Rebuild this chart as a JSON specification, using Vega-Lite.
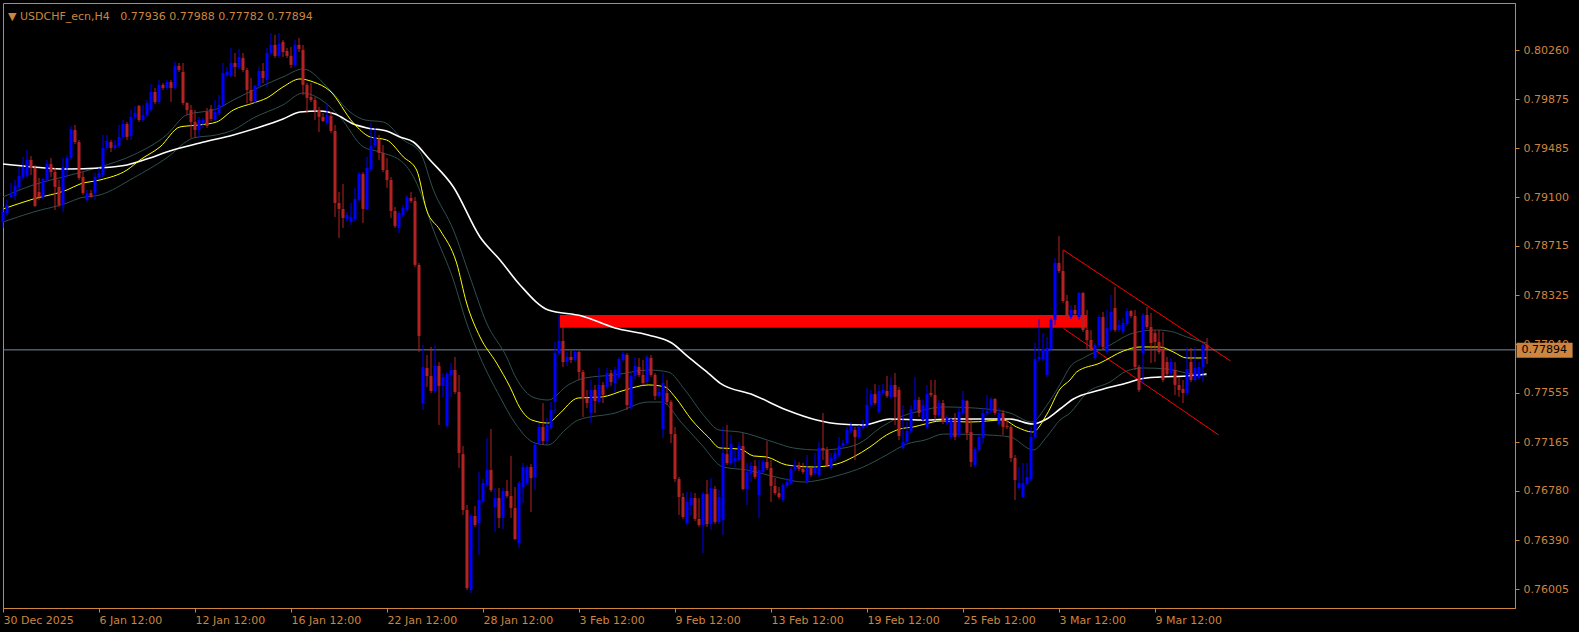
{
"$schema":"https://vega.github.io/schema/vega-lite/v6.json",
"width":1512,"height":605,"autosize":"none",
"padding":{"left":3,"top":3,"right":64,"bottom":24},
"background":"#000000",
"config":{"view":{"stroke":"#CD853F","strokeWidth":1,"fill":"#000000"},"font":"DejaVu Sans",
"axis":{"domainColor":"#CD853F","tickColor":"#CD853F","labelColor":"#CD853F","labelFont":"DejaVu Sans","labelFontSize":11,"grid":false,"tickSize":4,"title":null}},
"title":{"text":"▼ USDCHF_ecn,H4\u00a0\u00a0 0.77936 0.77988 0.77782 0.77894","anchor":"start","frame":"group","orient":"top","offset":-28,"dx":5,"font":"DejaVu Sans","fontSize":11,"fontWeight":"normal","color":"#CD853F","baseline":"alphabetic"},
"datasets":{
"candles":[
{"i":0,"o":0.78904,"h":0.79023,"l":0.78857,"c":0.78983},
{"i":1,"o":0.78975,"h":0.79078,"l":0.78952,"c":0.79039},
{"i":2,"o":0.79102,"h":0.79212,"l":0.79094,"c":0.79133},
{"i":3,"o":0.79110,"h":0.79236,"l":0.79078,"c":0.79189},
{"i":4,"o":0.79181,"h":0.79339,"l":0.79157,"c":0.79268},
{"i":5,"o":0.79260,"h":0.79418,"l":0.79244,"c":0.79339},
{"i":6,"o":0.79268,"h":0.79473,"l":0.79252,"c":0.79394},
{"i":7,"o":0.79394,"h":0.79426,"l":0.79276,"c":0.79331},
{"i":8,"o":0.79331,"h":0.79354,"l":0.79023,"c":0.79031},
{"i":9,"o":0.79141,"h":0.79252,"l":0.79078,"c":0.79102},
{"i":10,"o":0.79102,"h":0.79252,"l":0.79086,"c":0.79244},
{"i":11,"o":0.79236,"h":0.79394,"l":0.79220,"c":0.79362},
{"i":12,"o":0.79362,"h":0.79410,"l":0.79260,"c":0.79299},
{"i":13,"o":0.79299,"h":0.79331,"l":0.78999,"c":0.79181},
{"i":14,"o":0.79181,"h":0.79236,"l":0.79023,"c":0.79039},
{"i":15,"o":0.79039,"h":0.79410,"l":0.78983,"c":0.79339},
{"i":16,"o":0.79331,"h":0.79434,"l":0.79252,"c":0.79410},
{"i":17,"o":0.79410,"h":0.79663,"l":0.79394,"c":0.79639},
{"i":18,"o":0.79631,"h":0.79671,"l":0.79520,"c":0.79536},
{"i":19,"o":0.79536,"h":0.79552,"l":0.79236,"c":0.79252},
{"i":20,"o":0.79260,"h":0.79299,"l":0.79118,"c":0.79133},
{"i":21,"o":0.79078,"h":0.79157,"l":0.79062,"c":0.79133},
{"i":22,"o":0.79133,"h":0.79157,"l":0.79094,"c":0.79102},
{"i":23,"o":0.79133,"h":0.79291,"l":0.79078,"c":0.79260},
{"i":24,"o":0.79260,"h":0.79331,"l":0.79244,"c":0.79291},
{"i":25,"o":0.79276,"h":0.79592,"l":0.79260,"c":0.79489},
{"i":26,"o":0.79489,"h":0.79592,"l":0.79473,"c":0.79544},
{"i":27,"o":0.79536,"h":0.79552,"l":0.79457,"c":0.79489},
{"i":28,"o":0.79489,"h":0.79552,"l":0.79473,"c":0.79513},
{"i":29,"o":0.79505,"h":0.79671,"l":0.79489,"c":0.79576},
{"i":30,"o":0.79576,"h":0.79710,"l":0.79560,"c":0.79678},
{"i":31,"o":0.79678,"h":0.79694,"l":0.79552,"c":0.79576},
{"i":32,"o":0.79584,"h":0.79789,"l":0.79552,"c":0.79734},
{"i":33,"o":0.79734,"h":0.79821,"l":0.79718,"c":0.79765},
{"i":34,"o":0.79821,"h":0.79829,"l":0.79694,"c":0.79710},
{"i":35,"o":0.79710,"h":0.79829,"l":0.79694,"c":0.79750},
{"i":36,"o":0.79750,"h":0.79868,"l":0.79734,"c":0.79844},
{"i":37,"o":0.79789,"h":0.79994,"l":0.79773,"c":0.79931},
{"i":38,"o":0.79931,"h":0.79963,"l":0.79836,"c":0.79852},
{"i":39,"o":0.79852,"h":0.80026,"l":0.79836,"c":0.79987},
{"i":40,"o":0.79987,"h":0.80002,"l":0.79947,"c":0.79963},
{"i":41,"o":0.79963,"h":0.80026,"l":0.79947,"c":0.80010},
{"i":42,"o":0.80010,"h":0.80026,"l":0.79852,"c":0.79963},
{"i":43,"o":0.79963,"h":0.80168,"l":0.79947,"c":0.80137},
{"i":44,"o":0.80137,"h":0.80160,"l":0.80089,"c":0.80105},
{"i":45,"o":0.80089,"h":0.80160,"l":0.79829,"c":0.79844},
{"i":46,"o":0.79844,"h":0.79852,"l":0.79750,"c":0.79789},
{"i":47,"o":0.79789,"h":0.79829,"l":0.79568,"c":0.79694},
{"i":48,"o":0.79694,"h":0.79789,"l":0.79568,"c":0.79631},
{"i":49,"o":0.79631,"h":0.79734,"l":0.79576,"c":0.79710},
{"i":50,"o":0.79678,"h":0.79726,"l":0.79647,"c":0.79710},
{"i":51,"o":0.79773,"h":0.79805,"l":0.79647,"c":0.79663},
{"i":52,"o":0.79797,"h":0.79829,"l":0.79702,"c":0.79718},
{"i":53,"o":0.79710,"h":0.79868,"l":0.79694,"c":0.79773},
{"i":54,"o":0.79765,"h":0.79908,"l":0.79750,"c":0.79829},
{"i":55,"o":0.79829,"h":0.80160,"l":0.79813,"c":0.80081},
{"i":56,"o":0.80066,"h":0.80129,"l":0.80050,"c":0.80089},
{"i":57,"o":0.80058,"h":0.80279,"l":0.80042,"c":0.80160},
{"i":58,"o":0.80160,"h":0.80239,"l":0.80050,"c":0.80129},
{"i":59,"o":0.80129,"h":0.80271,"l":0.80113,"c":0.80208},
{"i":60,"o":0.80200,"h":0.80239,"l":0.80089,"c":0.80105},
{"i":61,"o":0.80105,"h":0.80121,"l":0.79844,"c":0.79947},
{"i":62,"o":0.79947,"h":0.80042,"l":0.79836,"c":0.79860},
{"i":63,"o":0.79860,"h":0.79987,"l":0.79836,"c":0.79979},
{"i":64,"o":0.79979,"h":0.80129,"l":0.79963,"c":0.80097},
{"i":65,"o":0.80097,"h":0.80160,"l":0.80002,"c":0.80042},
{"i":66,"o":0.80026,"h":0.80279,"l":0.79971,"c":0.80239},
{"i":67,"o":0.80239,"h":0.80397,"l":0.80224,"c":0.80303},
{"i":68,"o":0.80303,"h":0.80382,"l":0.80200,"c":0.80216},
{"i":69,"o":0.80216,"h":0.80397,"l":0.80200,"c":0.80310},
{"i":70,"o":0.80326,"h":0.80342,"l":0.80208,"c":0.80247},
{"i":71,"o":0.80255,"h":0.80279,"l":0.80200,"c":0.80216},
{"i":72,"o":0.80216,"h":0.80287,"l":0.80121,"c":0.80145},
{"i":73,"o":0.80145,"h":0.80342,"l":0.80129,"c":0.80303},
{"i":74,"o":0.80303,"h":0.80358,"l":0.80247,"c":0.80271},
{"i":75,"o":0.80263,"h":0.80303,"l":0.79908,"c":0.79987},
{"i":76,"o":0.79987,"h":0.80002,"l":0.79765,"c":0.79884},
{"i":77,"o":0.79892,"h":0.80002,"l":0.79852,"c":0.79868},
{"i":78,"o":0.79868,"h":0.79892,"l":0.79710,"c":0.79789},
{"i":79,"o":0.79789,"h":0.79813,"l":0.79615,"c":0.79734},
{"i":80,"o":0.79734,"h":0.79765,"l":0.79694,"c":0.79702},
{"i":81,"o":0.79686,"h":0.79844,"l":0.79671,"c":0.79750},
{"i":82,"o":0.79742,"h":0.79773,"l":0.79607,"c":0.79623},
{"i":83,"o":0.79623,"h":0.79671,"l":0.78944,"c":0.79054},
{"i":84,"o":0.79054,"h":0.79141,"l":0.78778,"c":0.79007},
{"i":85,"o":0.79007,"h":0.79204,"l":0.78857,"c":0.78936},
{"i":86,"o":0.78928,"h":0.78983,"l":0.78904,"c":0.78960},
{"i":87,"o":0.78904,"h":0.79054,"l":0.78881,"c":0.78944},
{"i":88,"o":0.78928,"h":0.79173,"l":0.78912,"c":0.79086},
{"i":89,"o":0.79078,"h":0.79299,"l":0.79062,"c":0.79283},
{"i":90,"o":0.79283,"h":0.79299,"l":0.78896,"c":0.79007},
{"i":91,"o":0.79007,"h":0.79418,"l":0.78999,"c":0.79331},
{"i":92,"o":0.79323,"h":0.79686,"l":0.79307,"c":0.79505},
{"i":93,"o":0.79505,"h":0.79647,"l":0.79489,"c":0.79576},
{"i":94,"o":0.79560,"h":0.79592,"l":0.79394,"c":0.79449},
{"i":95,"o":0.79449,"h":0.79513,"l":0.79299,"c":0.79315},
{"i":96,"o":0.79315,"h":0.79410,"l":0.79173,"c":0.79236},
{"i":97,"o":0.79236,"h":0.79260,"l":0.78936,"c":0.78991},
{"i":98,"o":0.78991,"h":0.79023,"l":0.78857,"c":0.78873},
{"i":99,"o":0.78857,"h":0.78991,"l":0.78817,"c":0.78975},
{"i":100,"o":0.78960,"h":0.79039,"l":0.78944,"c":0.79015},
{"i":101,"o":0.78999,"h":0.79118,"l":0.78983,"c":0.79102},
{"i":102,"o":0.79094,"h":0.79141,"l":0.79054,"c":0.79070},
{"i":103,"o":0.79070,"h":0.79102,"l":0.78549,"c":0.78565},
{"i":104,"o":0.78565,"h":0.78580,"l":0.77877,"c":0.78004},
{"i":105,"o":0.77474,"h":0.77933,"l":0.77419,"c":0.77759},
{"i":106,"o":0.77751,"h":0.77854,"l":0.77601,"c":0.77688},
{"i":107,"o":0.77688,"h":0.77917,"l":0.77553,"c":0.77569},
{"i":108,"o":0.77569,"h":0.77933,"l":0.77553,"c":0.77767},
{"i":109,"o":0.77767,"h":0.77798,"l":0.77301,"c":0.77609},
{"i":110,"o":0.77609,"h":0.77711,"l":0.77522,"c":0.77680},
{"i":111,"o":0.77293,"h":0.77719,"l":0.77277,"c":0.77703},
{"i":112,"o":0.77696,"h":0.77790,"l":0.77522,"c":0.77735},
{"i":113,"o":0.77735,"h":0.77838,"l":0.77545,"c":0.77561},
{"i":114,"o":0.77561,"h":0.77696,"l":0.76961,"c":0.77079},
{"i":115,"o":0.77071,"h":0.77135,"l":0.76590,"c":0.76629},
{"i":116,"o":0.76629,"h":0.76669,"l":0.75997,"c":0.76013},
{"i":117,"o":0.75997,"h":0.76597,"l":0.75973,"c":0.76582},
{"i":118,"o":0.76582,"h":0.76661,"l":0.76495,"c":0.76511},
{"i":119,"o":0.76526,"h":0.76929,"l":0.76274,"c":0.76708},
{"i":120,"o":0.76700,"h":0.76874,"l":0.76684,"c":0.76842},
{"i":121,"o":0.76827,"h":0.77198,"l":0.76811,"c":0.76945},
{"i":122,"o":0.76945,"h":0.77269,"l":0.76771,"c":0.76787},
{"i":123,"o":0.76653,"h":0.76803,"l":0.76455,"c":0.76724},
{"i":124,"o":0.76724,"h":0.76803,"l":0.76487,"c":0.76566},
{"i":125,"o":0.76566,"h":0.76803,"l":0.76479,"c":0.76779},
{"i":126,"o":0.76779,"h":0.76866,"l":0.76724,"c":0.76740},
{"i":127,"o":0.76740,"h":0.77056,"l":0.76566,"c":0.76645},
{"i":128,"o":0.76645,"h":0.76811,"l":0.76392,"c":0.76400},
{"i":129,"o":0.76368,"h":0.76858,"l":0.76329,"c":0.76842},
{"i":130,"o":0.76811,"h":0.77000,"l":0.76684,"c":0.76969},
{"i":131,"o":0.76842,"h":0.76985,"l":0.76827,"c":0.76969},
{"i":132,"o":0.76969,"h":0.76992,"l":0.76613,"c":0.76882},
{"i":133,"o":0.76890,"h":0.77166,"l":0.76787,"c":0.77143},
{"i":134,"o":0.77158,"h":0.77316,"l":0.77143,"c":0.77285},
{"i":135,"o":0.77285,"h":0.77474,"l":0.77143,"c":0.77174},
{"i":136,"o":0.77174,"h":0.77356,"l":0.77150,"c":0.77301},
{"i":137,"o":0.77277,"h":0.77482,"l":0.77261,"c":0.77419},
{"i":138,"o":0.77482,"h":0.77956,"l":0.77395,"c":0.77869},
{"i":139,"o":0.77869,"h":0.78170,"l":0.77854,"c":0.77964},
{"i":140,"o":0.77964,"h":0.78106,"l":0.77759,"c":0.77798},
{"i":141,"o":0.77798,"h":0.77877,"l":0.77767,"c":0.77838},
{"i":142,"o":0.77838,"h":0.77885,"l":0.77790,"c":0.77814},
{"i":143,"o":0.77814,"h":0.77893,"l":0.77798,"c":0.77877},
{"i":144,"o":0.77877,"h":0.77885,"l":0.77656,"c":0.77719},
{"i":145,"o":0.77719,"h":0.77735,"l":0.77364,"c":0.77514},
{"i":146,"o":0.77514,"h":0.77577,"l":0.77435,"c":0.77474},
{"i":147,"o":0.77395,"h":0.77656,"l":0.77316,"c":0.77577},
{"i":148,"o":0.77577,"h":0.77617,"l":0.77395,"c":0.77490},
{"i":149,"o":0.77482,"h":0.77751,"l":0.77466,"c":0.77617},
{"i":150,"o":0.77617,"h":0.77640,"l":0.77474,"c":0.77538},
{"i":151,"o":0.77601,"h":0.77751,"l":0.77585,"c":0.77711},
{"i":152,"o":0.77711,"h":0.77735,"l":0.77609,"c":0.77640},
{"i":153,"o":0.77632,"h":0.77759,"l":0.77561,"c":0.77735},
{"i":154,"o":0.77680,"h":0.77838,"l":0.77664,"c":0.77822},
{"i":155,"o":0.77814,"h":0.77877,"l":0.77798,"c":0.77861},
{"i":156,"o":0.77854,"h":0.77869,"l":0.77419,"c":0.77458},
{"i":157,"o":0.77443,"h":0.77711,"l":0.77427,"c":0.77688},
{"i":158,"o":0.77688,"h":0.77838,"l":0.77656,"c":0.77767},
{"i":159,"o":0.77759,"h":0.77830,"l":0.77680,"c":0.77696},
{"i":160,"o":0.77696,"h":0.77814,"l":0.77617,"c":0.77632},
{"i":161,"o":0.77640,"h":0.77854,"l":0.77624,"c":0.77838},
{"i":162,"o":0.77830,"h":0.77854,"l":0.77680,"c":0.77696},
{"i":163,"o":0.77696,"h":0.77711,"l":0.77498,"c":0.77530},
{"i":164,"o":0.77530,"h":0.77601,"l":0.77514,"c":0.77561},
{"i":165,"o":0.77269,"h":0.77711,"l":0.77198,"c":0.77632},
{"i":166,"o":0.77553,"h":0.77656,"l":0.77458,"c":0.77482},
{"i":167,"o":0.77482,"h":0.77498,"l":0.77158,"c":0.77229},
{"i":168,"o":0.77229,"h":0.77285,"l":0.76850,"c":0.76874},
{"i":169,"o":0.76874,"h":0.76890,"l":0.76590,"c":0.76732},
{"i":170,"o":0.76732,"h":0.76763,"l":0.76558,"c":0.76574},
{"i":171,"o":0.76526,"h":0.76771,"l":0.76511,"c":0.76692},
{"i":172,"o":0.76669,"h":0.76771,"l":0.76590,"c":0.76724},
{"i":173,"o":0.76724,"h":0.76763,"l":0.76542,"c":0.76558},
{"i":174,"o":0.76558,"h":0.76724,"l":0.76495,"c":0.76511},
{"i":175,"o":0.76511,"h":0.76771,"l":0.76289,"c":0.76755},
{"i":176,"o":0.76755,"h":0.76866,"l":0.76495,"c":0.76518},
{"i":177,"o":0.76518,"h":0.76882,"l":0.76471,"c":0.76803},
{"i":178,"o":0.76795,"h":0.76819,"l":0.76518,"c":0.76534},
{"i":179,"o":0.76534,"h":0.76787,"l":0.76518,"c":0.76732},
{"i":180,"o":0.76550,"h":0.77285,"l":0.76431,"c":0.77079},
{"i":181,"o":0.77071,"h":0.77301,"l":0.76985,"c":0.77000},
{"i":182,"o":0.77000,"h":0.77222,"l":0.76985,"c":0.77150},
{"i":183,"o":0.77016,"h":0.77103,"l":0.76969,"c":0.77040},
{"i":184,"o":0.77024,"h":0.77166,"l":0.77008,"c":0.77135},
{"i":185,"o":0.77135,"h":0.77237,"l":0.76787,"c":0.76795},
{"i":186,"o":0.76795,"h":0.77000,"l":0.76669,"c":0.76929},
{"i":187,"o":0.76913,"h":0.77008,"l":0.76850,"c":0.76977},
{"i":188,"o":0.76977,"h":0.77024,"l":0.76874,"c":0.76890},
{"i":189,"o":0.76748,"h":0.77024,"l":0.76566,"c":0.76945},
{"i":190,"o":0.76929,"h":0.77024,"l":0.76913,"c":0.77008},
{"i":191,"o":0.77008,"h":0.77174,"l":0.76945,"c":0.76961},
{"i":192,"o":0.76961,"h":0.77024,"l":0.76692,"c":0.76819},
{"i":193,"o":0.76819,"h":0.76882,"l":0.76748,"c":0.76763},
{"i":194,"o":0.76763,"h":0.76811,"l":0.76716,"c":0.76732},
{"i":195,"o":0.76708,"h":0.76842,"l":0.76692,"c":0.76827},
{"i":196,"o":0.76819,"h":0.76882,"l":0.76803,"c":0.76850},
{"i":197,"o":0.76842,"h":0.76969,"l":0.76827,"c":0.76953},
{"i":198,"o":0.76953,"h":0.77024,"l":0.76937,"c":0.76985},
{"i":199,"o":0.76985,"h":0.77008,"l":0.76937,"c":0.76953},
{"i":200,"o":0.76953,"h":0.77000,"l":0.76913,"c":0.76929},
{"i":201,"o":0.76850,"h":0.77064,"l":0.76834,"c":0.76961},
{"i":202,"o":0.76961,"h":0.76969,"l":0.76890,"c":0.76906},
{"i":203,"o":0.76921,"h":0.77079,"l":0.76906,"c":0.76961},
{"i":204,"o":0.76906,"h":0.77166,"l":0.76890,"c":0.77119},
{"i":205,"o":0.77119,"h":0.77395,"l":0.77024,"c":0.77103},
{"i":206,"o":0.77103,"h":0.77127,"l":0.76969,"c":0.76985},
{"i":207,"o":0.76961,"h":0.77079,"l":0.76945,"c":0.77040},
{"i":208,"o":0.77032,"h":0.77103,"l":0.77016,"c":0.77079},
{"i":209,"o":0.77064,"h":0.77206,"l":0.77048,"c":0.77135},
{"i":210,"o":0.77135,"h":0.77182,"l":0.77119,"c":0.77158},
{"i":211,"o":0.77158,"h":0.77285,"l":0.77143,"c":0.77261},
{"i":212,"o":0.77253,"h":0.77324,"l":0.77237,"c":0.77293},
{"i":213,"o":0.77261,"h":0.77285,"l":0.77024,"c":0.77206},
{"i":214,"o":0.77206,"h":0.77301,"l":0.77190,"c":0.77285},
{"i":215,"o":0.77277,"h":0.77340,"l":0.77261,"c":0.77293},
{"i":216,"o":0.77293,"h":0.77593,"l":0.77277,"c":0.77458},
{"i":217,"o":0.77458,"h":0.77577,"l":0.77443,"c":0.77545},
{"i":218,"o":0.77545,"h":0.77624,"l":0.77458,"c":0.77474},
{"i":219,"o":0.77403,"h":0.77617,"l":0.77387,"c":0.77569},
{"i":220,"o":0.77553,"h":0.77624,"l":0.77538,"c":0.77577},
{"i":221,"o":0.77569,"h":0.77688,"l":0.77514,"c":0.77530},
{"i":222,"o":0.77522,"h":0.77680,"l":0.77506,"c":0.77617},
{"i":223,"o":0.77617,"h":0.77711,"l":0.77301,"c":0.77522},
{"i":224,"o":0.77577,"h":0.77601,"l":0.77182,"c":0.77214},
{"i":225,"o":0.77119,"h":0.77458,"l":0.77103,"c":0.77166},
{"i":226,"o":0.77166,"h":0.77324,"l":0.77150,"c":0.77253},
{"i":227,"o":0.77253,"h":0.77458,"l":0.77237,"c":0.77427},
{"i":228,"o":0.77419,"h":0.77680,"l":0.77403,"c":0.77498},
{"i":229,"o":0.77498,"h":0.77522,"l":0.77364,"c":0.77395},
{"i":230,"o":0.77340,"h":0.77498,"l":0.77324,"c":0.77458},
{"i":231,"o":0.77285,"h":0.77617,"l":0.77269,"c":0.77545},
{"i":232,"o":0.77553,"h":0.77656,"l":0.77522,"c":0.77538},
{"i":233,"o":0.77538,"h":0.77656,"l":0.77340,"c":0.77380},
{"i":234,"o":0.77380,"h":0.77498,"l":0.77364,"c":0.77474},
{"i":235,"o":0.77474,"h":0.77498,"l":0.77308,"c":0.77324},
{"i":236,"o":0.77316,"h":0.77380,"l":0.77301,"c":0.77364},
{"i":237,"o":0.77206,"h":0.77364,"l":0.77190,"c":0.77348},
{"i":238,"o":0.77348,"h":0.77395,"l":0.77182,"c":0.77206},
{"i":239,"o":0.77222,"h":0.77435,"l":0.77206,"c":0.77403},
{"i":240,"o":0.77395,"h":0.77569,"l":0.77380,"c":0.77498},
{"i":241,"o":0.77490,"h":0.77498,"l":0.77182,"c":0.77237},
{"i":242,"o":0.77245,"h":0.77340,"l":0.76969,"c":0.77008},
{"i":243,"o":0.76985,"h":0.77127,"l":0.76969,"c":0.77111},
{"i":244,"o":0.77103,"h":0.77237,"l":0.77087,"c":0.77206},
{"i":245,"o":0.77198,"h":0.77435,"l":0.77158,"c":0.77395},
{"i":246,"o":0.77395,"h":0.77538,"l":0.77380,"c":0.77411},
{"i":247,"o":0.77411,"h":0.77522,"l":0.77395,"c":0.77506},
{"i":248,"o":0.77506,"h":0.77514,"l":0.77380,"c":0.77395},
{"i":249,"o":0.77308,"h":0.77435,"l":0.77293,"c":0.77395},
{"i":250,"o":0.77395,"h":0.77419,"l":0.77222,"c":0.77285},
{"i":251,"o":0.77293,"h":0.77340,"l":0.77269,"c":0.77285},
{"i":252,"o":0.77285,"h":0.77301,"l":0.77008,"c":0.77040},
{"i":253,"o":0.77040,"h":0.77064,"l":0.76708,"c":0.76866},
{"i":254,"o":0.76803,"h":0.76969,"l":0.76787,"c":0.76842},
{"i":255,"o":0.76732,"h":0.77000,"l":0.76724,"c":0.76842},
{"i":256,"o":0.76834,"h":0.77000,"l":0.76819,"c":0.76890},
{"i":257,"o":0.76874,"h":0.77285,"l":0.76858,"c":0.77206},
{"i":258,"o":0.77206,"h":0.77948,"l":0.77190,"c":0.77822},
{"i":259,"o":0.77822,"h":0.78138,"l":0.77806,"c":0.77838},
{"i":260,"o":0.77822,"h":0.78027,"l":0.77806,"c":0.77901},
{"i":261,"o":0.77696,"h":0.77996,"l":0.77680,"c":0.77909},
{"i":262,"o":0.77901,"h":0.78146,"l":0.77885,"c":0.78130},
{"i":263,"o":0.78130,"h":0.78620,"l":0.78091,"c":0.78580},
{"i":264,"o":0.78580,"h":0.78794,"l":0.78501,"c":0.78517},
{"i":265,"o":0.78517,"h":0.78683,"l":0.78264,"c":0.78280},
{"i":266,"o":0.78280,"h":0.78328,"l":0.78138,"c":0.78154},
{"i":267,"o":0.78154,"h":0.78249,"l":0.78138,"c":0.78209},
{"i":268,"o":0.78209,"h":0.78249,"l":0.78162,"c":0.78177},
{"i":269,"o":0.78154,"h":0.78351,"l":0.78130,"c":0.78343},
{"i":270,"o":0.78343,"h":0.78351,"l":0.78035,"c":0.78051},
{"i":271,"o":0.78051,"h":0.78209,"l":0.77893,"c":0.77972},
{"i":272,"o":0.77972,"h":0.78051,"l":0.77885,"c":0.77901},
{"i":273,"o":0.77830,"h":0.77948,"l":0.77814,"c":0.77933},
{"i":274,"o":0.77933,"h":0.78170,"l":0.77917,"c":0.78154},
{"i":275,"o":0.78154,"h":0.78193,"l":0.77893,"c":0.77917},
{"i":276,"o":0.77877,"h":0.78209,"l":0.77861,"c":0.78067},
{"i":277,"o":0.78051,"h":0.78328,"l":0.78035,"c":0.78193},
{"i":278,"o":0.78225,"h":0.78391,"l":0.78035,"c":0.78051},
{"i":279,"o":0.78051,"h":0.78130,"l":0.78035,"c":0.78091},
{"i":280,"o":0.78035,"h":0.78146,"l":0.78019,"c":0.78106},
{"i":281,"o":0.78098,"h":0.78225,"l":0.78083,"c":0.78201},
{"i":282,"o":0.78201,"h":0.78209,"l":0.78146,"c":0.78162},
{"i":283,"o":0.78162,"h":0.78209,"l":0.77735,"c":0.77759},
{"i":284,"o":0.77759,"h":0.77775,"l":0.77561,"c":0.77577},
{"i":285,"o":0.77869,"h":0.78185,"l":0.77632,"c":0.78170},
{"i":286,"o":0.78170,"h":0.78233,"l":0.78059,"c":0.78075},
{"i":287,"o":0.78075,"h":0.78185,"l":0.77790,"c":0.77948},
{"i":288,"o":0.78027,"h":0.78051,"l":0.77798,"c":0.77956},
{"i":289,"o":0.77956,"h":0.78051,"l":0.77861,"c":0.77877},
{"i":290,"o":0.77893,"h":0.78035,"l":0.77640,"c":0.77656},
{"i":291,"o":0.77798,"h":0.77838,"l":0.77688,"c":0.77703},
{"i":292,"o":0.77711,"h":0.77830,"l":0.77696,"c":0.77798},
{"i":293,"o":0.77735,"h":0.77798,"l":0.77538,"c":0.77617},
{"i":294,"o":0.77617,"h":0.77680,"l":0.77522,"c":0.77577},
{"i":295,"o":0.77585,"h":0.77656,"l":0.77474,"c":0.77553},
{"i":296,"o":0.77553,"h":0.77917,"l":0.77538,"c":0.77743},
{"i":297,"o":0.77798,"h":0.77909,"l":0.77640,"c":0.77656},
{"i":298,"o":0.77656,"h":0.77917,"l":0.77640,"c":0.77751},
{"i":299,"o":0.77672,"h":0.77798,"l":0.77656,"c":0.77759},
{"i":300,"o":0.77759,"h":0.77948,"l":0.77640,"c":0.77933},
{"i":301,"o":0.77936,"h":0.77988,"l":0.77782,"c":0.77894}
],
"ma":[
{"s":"y","i":0,"p":0.79007},{"s":"y","i":7.6,"p":0.79086},{"s":"y","i":16,"p":0.79157},{"s":"y","i":19.25,"p":0.79204},{"s":"y","i":24.25,"p":0.79236},{"s":"y","i":31,"p":0.79315},{"s":"y","i":34.25,"p":0.79394},{"s":"y","i":39.25,"p":0.79497},{"s":"y","i":44.25,"p":0.79655},{"s":"y","i":49.25,"p":0.79671},{"s":"y","i":53.4,"p":0.79694},{"s":"y","i":57.6,"p":0.79789},{"s":"y","i":62.6,"p":0.79844},{"s":"y","i":66,"p":0.79884},{"s":"y","i":70,"p":0.79971},{"s":"y","i":74.25,"p":0.80034},{"s":"y","i":77.6,"p":0.80010},{"s":"y","i":81.75,"p":0.79939},{"s":"y","i":87.6,"p":0.79686},{"s":"y","i":91.75,"p":0.79576},{"s":"y","i":95.9,"p":0.79552},{"s":"y","i":100.1,"p":0.79418},{"s":"y","i":103.4,"p":0.79315},{"s":"y","i":105.9,"p":0.78999},{"s":"y","i":109.25,"p":0.78841},{"s":"y","i":113.4,"p":0.78580},{"s":"y","i":115.9,"p":0.78264},{"s":"y","i":119.25,"p":0.77996},{"s":"y","i":123.4,"p":0.77790},{"s":"y","i":126.75,"p":0.77601},{"s":"y","i":129.25,"p":0.77435},{"s":"y","i":132.2,"p":0.77340},{"s":"y","i":136.3,"p":0.77316},{"s":"y","i":138.8,"p":0.77380},{"s":"y","i":143.8,"p":0.77514},{"s":"y","i":149.7,"p":0.77522},{"s":"y","i":155.5,"p":0.77577},{"s":"y","i":161.3,"p":0.77617},{"s":"y","i":165.5,"p":0.77601},{"s":"y","i":168,"p":0.77522},{"s":"y","i":172.2,"p":0.77340},{"s":"y","i":176.3,"p":0.77206},{"s":"y","i":179.25,"p":0.77119},{"s":"y","i":184.25,"p":0.77111},{"s":"y","i":187.6,"p":0.77056},{"s":"y","i":190.9,"p":0.77048},{"s":"y","i":195.9,"p":0.76985},{"s":"y","i":202.6,"p":0.76969},{"s":"y","i":208.4,"p":0.76992},{"s":"y","i":212.6,"p":0.77048},{"s":"y","i":216.75,"p":0.77127},{"s":"y","i":220.9,"p":0.77222},{"s":"y","i":224.25,"p":0.77269},{"s":"y","i":227.6,"p":0.77285},{"s":"y","i":230.5,"p":0.77308},{"s":"y","i":234.25,"p":0.77332},{"s":"y","i":241.75,"p":0.77324},{"s":"y","i":250.1,"p":0.77340},{"s":"y","i":253.4,"p":0.77285},{"s":"y","i":257.4,"p":0.77245},{"s":"y","i":261,"p":0.77387},{"s":"y","i":264.25,"p":0.77585},{"s":"y","i":266.75,"p":0.77656},{"s":"y","i":268.4,"p":0.77719},{"s":"y","i":274.25,"p":0.77790},{"s":"y","i":280.1,"p":0.77885},{"s":"y","i":284.25,"p":0.77917},{"s":"y","i":289.25,"p":0.77917},{"s":"y","i":292.6,"p":0.77877},{"s":"y","i":295.9,"p":0.77830},{"s":"y","i":300.9,"p":0.77830},
{"s":"w","i":0,"p":0.79362},{"s":"w","i":7.6,"p":0.79339},{"s":"w","i":16,"p":0.79323},{"s":"w","i":24.25,"p":0.79331},{"s":"w","i":31,"p":0.79354},{"s":"w","i":36.75,"p":0.79410},{"s":"w","i":40.9,"p":0.79457},{"s":"w","i":49.25,"p":0.79528},{"s":"w","i":57.6,"p":0.79592},{"s":"w","i":64.25,"p":0.79655},{"s":"w","i":70,"p":0.79718},{"s":"w","i":74.25,"p":0.79773},{"s":"w","i":79.25,"p":0.79781},{"s":"w","i":83,"p":0.79757},{"s":"w","i":87.6,"p":0.79678},{"s":"w","i":91,"p":0.79647},{"s":"w","i":95.9,"p":0.79623},{"s":"w","i":99.25,"p":0.79576},{"s":"w","i":102.6,"p":0.79536},{"s":"w","i":106.75,"p":0.79394},{"s":"w","i":112.6,"p":0.79181},{"s":"w","i":119.25,"p":0.78786},{"s":"w","i":124.25,"p":0.78604},{"s":"w","i":129.25,"p":0.78407},{"s":"w","i":136.3,"p":0.78209},{"s":"w","i":144.7,"p":0.78162},{"s":"w","i":153,"p":0.78067},{"s":"w","i":161.3,"p":0.78012},{"s":"w","i":167.2,"p":0.77948},{"s":"w","i":171.3,"p":0.77838},{"s":"w","i":176.3,"p":0.77711},{"s":"w","i":179.25,"p":0.77632},{"s":"w","i":187.6,"p":0.77538},{"s":"w","i":195.9,"p":0.77419},{"s":"w","i":203.4,"p":0.77340},{"s":"w","i":209.25,"p":0.77308},{"s":"w","i":215.1,"p":0.77301},{"s":"w","i":221.75,"p":0.77348},{"s":"w","i":230.5,"p":0.77340},{"s":"w","i":237.6,"p":0.77348},{"s":"w","i":245.9,"p":0.77348},{"s":"w","i":251.75,"p":0.77348},{"s":"w","i":257.4,"p":0.77308},{"s":"w","i":260.9,"p":0.77348},{"s":"w","i":264.25,"p":0.77427},{"s":"w","i":267.6,"p":0.77506},{"s":"w","i":274.25,"p":0.77577},{"s":"w","i":280.9,"p":0.77632},{"s":"w","i":284.25,"p":0.77664},{"s":"w","i":289.25,"p":0.77680},{"s":"w","i":295.9,"p":0.77688},{"s":"w","i":300.9,"p":0.77703},
{"s":"u","i":0,"p":0.79102},{"s":"u","i":7.6,"p":0.79197},{"s":"u","i":16,"p":0.79268},{"s":"u","i":24.25,"p":0.79339},{"s":"u","i":32.6,"p":0.79434},{"s":"u","i":40.9,"p":0.79592},{"s":"u","i":45.9,"p":0.79750},{"s":"u","i":53.4,"p":0.79797},{"s":"u","i":57.6,"p":0.79868},{"s":"u","i":64.25,"p":0.79971},{"s":"u","i":70,"p":0.80050},{"s":"u","i":75,"p":0.80113},{"s":"u","i":81.75,"p":0.79947},{"s":"u","i":86.75,"p":0.79773},{"s":"u","i":90.5,"p":0.79710},{"s":"u","i":95.1,"p":0.79694},{"s":"u","i":100.1,"p":0.79552},{"s":"u","i":104.25,"p":0.79457},{"s":"u","i":107.6,"p":0.79157},{"s":"u","i":112.6,"p":0.78841},{"s":"u","i":116.75,"p":0.78470},{"s":"u","i":120.9,"p":0.78106},{"s":"u","i":125.9,"p":0.77838},{"s":"u","i":128,"p":0.77688},{"s":"u","i":133,"p":0.77514},{"s":"u","i":136.3,"p":0.77498},{"s":"u","i":141.3,"p":0.77617},{"s":"u","i":145.5,"p":0.77672},{"s":"u","i":153,"p":0.77696},{"s":"u","i":161.3,"p":0.77735},{"s":"u","i":166.3,"p":0.77719},{"s":"u","i":170.5,"p":0.77577},{"s":"u","i":175.5,"p":0.77364},{"s":"u","i":179,"p":0.77261},{"s":"u","i":184.25,"p":0.77245},{"s":"u","i":192.6,"p":0.77166},{"s":"u","i":197.6,"p":0.77119},{"s":"u","i":204.25,"p":0.77103},{"s":"u","i":208.4,"p":0.77111},{"s":"u","i":214.25,"p":0.77158},{"s":"u","i":219.25,"p":0.77277},{"s":"u","i":224.25,"p":0.77364},{"s":"u","i":229.25,"p":0.77411},{"s":"u","i":235.1,"p":0.77443},{"s":"u","i":245.9,"p":0.77427},{"s":"u","i":251.75,"p":0.77395},{"s":"u","i":257.2,"p":0.77324},{"s":"u","i":261,"p":0.77458},{"s":"u","i":264.6,"p":0.77640},{"s":"u","i":266.75,"p":0.77759},{"s":"u","i":270.1,"p":0.77830},{"s":"u","i":275.9,"p":0.77917},{"s":"u","i":282.6,"p":0.78027},{"s":"u","i":288.4,"p":0.78051},{"s":"u","i":292.6,"p":0.78035},{"s":"u","i":295.9,"p":0.77996},{"s":"u","i":300.9,"p":0.77948},
{"s":"d","i":0,"p":0.78904},{"s":"d","i":7.6,"p":0.78983},{"s":"d","i":16,"p":0.79054},{"s":"d","i":19.25,"p":0.79094},{"s":"d","i":24.25,"p":0.79118},{"s":"d","i":32.6,"p":0.79252},{"s":"d","i":40.9,"p":0.79410},{"s":"d","i":47.6,"p":0.79568},{"s":"d","i":53.4,"p":0.79592},{"s":"d","i":57.6,"p":0.79631},{"s":"d","i":62.6,"p":0.79726},{"s":"d","i":70,"p":0.79829},{"s":"d","i":75,"p":0.79923},{"s":"d","i":79.25,"p":0.79876},{"s":"d","i":84.25,"p":0.79734},{"s":"d","i":90.1,"p":0.79497},{"s":"d","i":94.25,"p":0.79457},{"s":"d","i":100.1,"p":0.79370},{"s":"d","i":103.4,"p":0.79212},{"s":"d","i":107.6,"p":0.78841},{"s":"d","i":112.6,"p":0.78446},{"s":"d","i":115.9,"p":0.78106},{"s":"d","i":119.25,"p":0.77838},{"s":"d","i":124.25,"p":0.77522},{"s":"d","i":128,"p":0.77316},{"s":"d","i":133,"p":0.77158},{"s":"d","i":136.3,"p":0.77143},{"s":"d","i":140.5,"p":0.77261},{"s":"d","i":143.8,"p":0.77340},{"s":"d","i":153,"p":0.77395},{"s":"d","i":161.3,"p":0.77482},{"s":"d","i":164.7,"p":0.77482},{"s":"d","i":169.7,"p":0.77316},{"s":"d","i":174.7,"p":0.77143},{"s":"d","i":180,"p":0.76969},{"s":"d","i":185.9,"p":0.76945},{"s":"d","i":194.25,"p":0.76882},{"s":"d","i":200.1,"p":0.76850},{"s":"d","i":204.25,"p":0.76866},{"s":"d","i":209.25,"p":0.76906},{"s":"d","i":215.1,"p":0.76969},{"s":"d","i":220.9,"p":0.77064},{"s":"d","i":225.9,"p":0.77150},{"s":"d","i":230.5,"p":0.77182},{"s":"d","i":235.1,"p":0.77229},{"s":"d","i":245.9,"p":0.77222},{"s":"d","i":251.75,"p":0.77206},{"s":"d","i":257.6,"p":0.77103},{"s":"d","i":260.9,"p":0.77206},{"s":"d","i":264.25,"p":0.77340},{"s":"d","i":266.75,"p":0.77395},{"s":"d","i":270.9,"p":0.77553},{"s":"d","i":276.75,"p":0.77640},{"s":"d","i":280.9,"p":0.77727},{"s":"d","i":285.1,"p":0.77751},{"s":"d","i":291,"p":0.77743},{"s":"d","i":295.9,"p":0.77711},{"s":"d","i":300.9,"p":0.77688}
]
},
"layer":[
{"data":{"values":[{"a":139.25,"b":271,"t":0.78170,"u":0.78069}]},
 "mark":{"type":"rect","color":"#FF0000"},
 "encoding":{"x":{"field":"a","type":"quantitative","title":null,"scale":{"domain":[0,378],"nice":false,"zero":false,"padding":0},
   "axis":{"orient":"bottom","values":[0,24,48,72,96,120,144,168,192,216,240,264,288],"labelExpr":"['30 Dec 2025','6 Jan 12:00','12 Jan 12:00','16 Jan 12:00','22 Jan 12:00','28 Jan 12:00','3 Feb 12:00','9 Feb 12:00','13 Feb 12:00','19 Feb 12:00','25 Feb 12:00','3 Mar 12:00','9 Mar 12:00'][round(datum.value/24)]","labelAlign":"left","labelFlush":false,"labelOverlap":false,"labelBound":false,"labelPadding":2,"title":null}},
  "x2":{"field":"b"},
  "y":{"field":"t","type":"quantitative","title":null,"scale":{"domain":[0.75855,0.80634],"nice":false,"zero":false,"padding":0},
   "axis":{"orient":"right","values":[0.8026,0.79875,0.79485,0.791,0.78715,0.78325,0.7794,0.77555,0.77165,0.7678,0.7639,0.76005],"format":".5f","labelPadding":4,"labelOverlap":false,"labelBound":false,"title":null}},
  "y2":{"field":"u"}}},
{"data":{"values":[{"a":265.1,"pa":0.78683,"b":306.9,"pb":0.77806},{"a":265.1,"pa":0.78064,"b":303.9,"pb":0.77222}]},
 "mark":{"type":"rule","color":"#FF0000","strokeWidth":1},
 "encoding":{"x":{"field":"a","type":"quantitative","title":null},"x2":{"field":"b"},"y":{"field":"pa","type":"quantitative","title":null},"y2":{"field":"pb"}}},
{"data":{"values":[{"p":0.77894}]},
 "mark":{"type":"rule","color":"#778899","strokeWidth":1},
 "encoding":{"y":{"field":"p","type":"quantitative","title":null}}},
{"data":{"name":"ma"},"transform":[{"filter":"datum.s === 'u' || datum.s === 'd'"}],
 "mark":{"type":"line","color":"#2F4F4F","strokeWidth":1,"interpolate":"monotone"},
 "encoding":{"x":{"field":"i","type":"quantitative","title":null},"y":{"field":"p","type":"quantitative","title":null},"detail":{"field":"s"}}},
{"data":{"name":"ma"},"transform":[{"filter":"datum.s === 'w'"}],
 "mark":{"type":"line","color":"#FFFFFF","strokeWidth":1.6,"interpolate":"monotone"},
 "encoding":{"x":{"field":"i","type":"quantitative","title":null},"y":{"field":"p","type":"quantitative","title":null}}},
{"data":{"name":"ma"},"transform":[{"filter":"datum.s === 'y'"}],
 "mark":{"type":"line","color":"#FFFF00","strokeWidth":1,"interpolate":"monotone"},
 "encoding":{"x":{"field":"i","type":"quantitative","title":null},"y":{"field":"p","type":"quantitative","title":null}}},
{"data":{"name":"candles"},
 "mark":{"type":"rule","strokeWidth":1},
 "encoding":{"x":{"field":"i","type":"quantitative","title":null},"y":{"field":"l","type":"quantitative","title":null},"y2":{"field":"h"},
  "color":{"condition":{"test":"datum.c >= datum.o","value":"#0000FF"},"value":"#B22222"}}},
{"data":{"name":"candles"},
 "mark":{"type":"bar","size":3},
 "encoding":{"x":{"field":"i","type":"quantitative","title":null},"y":{"field":"o","type":"quantitative","title":null},"y2":{"field":"c"},
  "color":{"condition":{"test":"datum.c >= datum.o","value":"#0000FF"},"value":"#B22222"}}},
{"data":{"values":[{"a":378.4,"b":392.4,"t":0.77951,"u":0.77832}]},
 "mark":{"type":"rect","color":"#CD853F"},
 "encoding":{"x":{"field":"a","type":"quantitative","title":null},"x2":{"field":"b"},"y":{"field":"t","type":"quantitative","title":null},"y2":{"field":"u"}}},
{"data":{"values":[{"a":379.6,"p":0.77894,"label":"0.77894"}]},
 "mark":{"type":"text","color":"#000000","align":"left","baseline":"middle","font":"DejaVu Sans","fontSize":11},
 "encoding":{"x":{"field":"a","type":"quantitative","title":null},"y":{"field":"p","type":"quantitative","title":null},"text":{"field":"label"}}}
]
}
